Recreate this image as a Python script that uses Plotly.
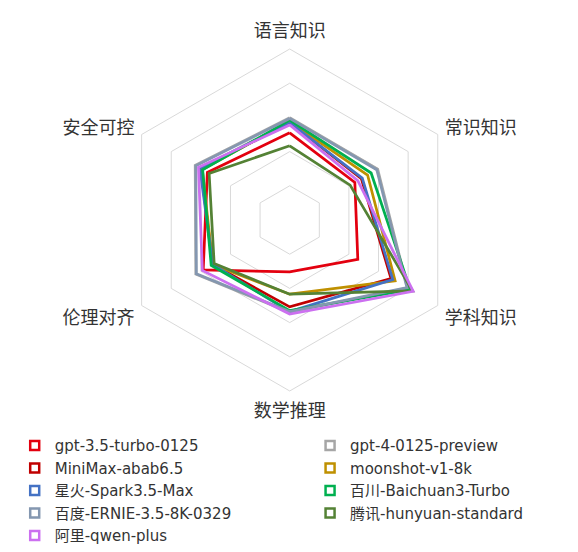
import plotly.graph_objects as go

categories = ["语言知识", "常识知识", "学科知识", "数学推理", "伦理对齐", "安全可控"]

model_names = [
    "gpt-3.5-turbo-0125",
    "gpt-4-0125-preview",
    "MiniMax-abab6.5",
    "moonshot-v1-8k",
    "星火-Spark3.5-Max",
    "百川-Baichuan3-Turbo",
    "百度-ERNIE-3.5-8K-0329",
    "腾讯-hunyuan-standard",
    "阿里-qwen-plus",
]

gpt35 = [2.55, 2.20, 2.30, 1.52, 2.92, 2.78]
gpt4 = [2.99, 2.97, 3.98, 2.70, 3.17, 3.19]
minimax = [2.85, 2.42, 3.42, 2.54, 2.60, 3.00]
moonshot = [2.88, 2.63, 3.56, 2.17, 2.60, 2.95]
spark = [2.85, 2.45, 3.48, 2.68, 2.60, 3.03]
baichuan = [2.92, 2.75, 4.07, 2.65, 2.65, 2.94]
ernie = [2.97, 2.94, 3.96, 2.68, 3.15, 3.17]
hunyuan = [2.17, 2.04, 4.15, 2.17, 2.55, 2.72]
qwen = [2.78, 2.30, 4.17, 2.75, 2.95, 3.08]

series_values = [gpt35, gpt4, minimax, moonshot, spark, baichuan, ernie, hunyuan, qwen]

colors = ["#e3000f", "#a6a6a6", "#c00000", "#bf9000", "#4472c4",
          "#00b050", "#8497b0", "#548235", "#cc70f0"]

legend_columns = ["legend", "legend2", "legend", "legend2", "legend",
                  "legend2", "legend", "legend2", "legend"]

fig = go.Figure()

theta_closed = categories + [categories[0]]
for name, vals, c in zip(model_names, series_values, colors):
    fig.add_trace(go.Scatterpolar(
        r=vals + [vals[0]], theta=theta_closed, mode="lines",
        line=dict(color=c, width=2.75), name=name, showlegend=False,
        hoverinfo="skip",
    ))

for name, c, lg in zip(model_names, colors, legend_columns):
    fig.add_trace(go.Scatterpolar(
        r=[None], theta=[None], mode="markers", name=name, legend=lg,
        marker=dict(symbol="square-open", size=9, color=c, line=dict(width=2.5, color=c)),
        showlegend=True,
    ))

cjk_font = "Noto Sans CJK SC, Noto Sans, sans-serif"
legend_font = dict(size=15, family="DejaVu Sans, Noto Sans CJK SC, sans-serif", color="#333333")

fig.update_layout(
    width=578, height=552,
    margin=dict(l=0, r=0, t=0, b=0, autoexpand=False),
    paper_bgcolor="white",
    plot_bgcolor="white",
    font=dict(family=cjk_font, color="#333333"),
    polar=dict(
        domain=dict(x=[0.1915, 0.7832], y=[0.3062, 0.9257]),
        gridshape="linear",
        bgcolor="white",
        radialaxis=dict(range=[0, 5], tickvals=[1, 2, 3, 4, 5], showticklabels=False,
                        ticks="", showline=False, gridcolor="#d9d9d9", gridwidth=1),
        angularaxis=dict(rotation=90, direction="clockwise", showgrid=False,
                         linecolor="#d9d9d9", linewidth=1,
                         ticks="outside", ticklen=4, tickcolor="rgba(0,0,0,0)",
                         tickfont=dict(size=18, color="#333333", family=cjk_font)),
    ),
    legend=dict(
        orientation="v", x=0.0116, y=0.237, xanchor="left", yanchor="top",
        itemwidth=30, font=legend_font, bgcolor="rgba(0,0,0,0)",
        tracegroupgap=0,
    ),
    legend2=dict(
        orientation="v", x=0.5226, y=0.237, xanchor="left", yanchor="top",
        itemwidth=30, font=legend_font, bgcolor="rgba(0,0,0,0)",
        tracegroupgap=0,
    ),
)

fig.write_html("out.html")
